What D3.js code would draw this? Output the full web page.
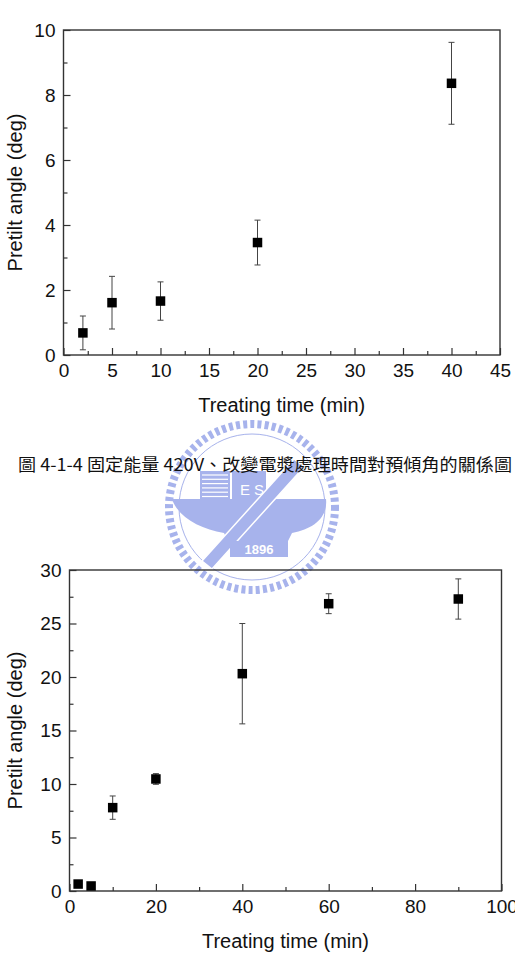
<!DOCTYPE html>
<html>
<head>
<meta charset="utf-8">
<script src="https://cdn.jsdelivr.net/npm/d3@7"></script>
<style>
  body { margin: 0; background: #fff; }
  svg { display: block; font-family: "Liberation Sans", Arial, sans-serif; }
</style>
</head>
<body>
<div id="fig"></div>
<script>
// chart 1: fixed energy 420V, varying treatment time (0-45 min)
const time1 = [2, 5, 10, 20, 40];
const angle1 = [0.68, 1.61, 1.66, 3.46, 8.36];
const err1 = [0.52, 0.81, 0.59, 0.69, 1.26];
const xTicks1 = [0, 5, 10, 15, 20, 25, 30, 35, 40, 45];
const yTicks1 = [0, 2, 4, 6, 8, 10];

// chart 2: 0-100 min
const time2 = [2, 5, 10, 20, 40, 60, 90];
const angle2 = [0.65, 0.47, 7.79, 10.47, 20.31, 26.85, 27.29];
const err2 = [0.2, 0.15, 1.09, 0.5, 4.69, 0.93, 1.88];
const xTicks2 = [0, 20, 40, 60, 80, 100];
const yTicks2 = [0, 5, 10, 15, 20, 25, 30];

const caption = '圖 4-1-4 固定能量 420V、改變電漿處理時間對預傾角的關係圖';

const W = 515, H = 962;
const svg = d3.select('#fig').append('svg')
  .attr('width', W).attr('height', H);

// faint university logo watermark behind the caption
const logo = svg.append('g').attr('transform', 'translate(252,507)')
  .attr('opacity', 0.7);
const blue = '#8393e4';
logo.append('circle').attr('r', 83)
  .attr('fill', 'none').attr('stroke', blue).attr('stroke-width', 8)
  .attr('stroke-dasharray', '4 3.2');
logo.append('circle').attr('r', 73)
  .attr('fill', 'none').attr('stroke', blue).attr('stroke-width', 1);
// anvil body
logo.append('path')
  .attr('d', 'M-80,-8 L74,-8 C76,10 62,22 40,26 L34,38 L-22,38 L-28,26 C-52,22 -74,10 -80,-8 Z')
  .attr('fill', blue);
// striped block
logo.append('rect').attr('x', -52).attr('y', -36).attr('width', 30).attr('height', 28).attr('fill', blue);
d3.range(6).forEach(i => {
  logo.append('line').attr('x1', -50).attr('x2', -24)
    .attr('y1', -32 + i * 4.3).attr('y2', -32 + i * 4.3)
    .attr('stroke', '#fff').attr('stroke-width', 1.2);
});
logo.append('rect').attr('x', -20).attr('y', -36).attr('width', 34).attr('height', 28).attr('fill', blue);
logo.append('text').attr('x', -12).attr('y', -12).text('E')
  .attr('fill', '#fff').attr('font-size', 15);
logo.append('text').attr('x', 2).attr('y', -12).text('S')
  .attr('fill', '#fff').attr('font-size', 15);
// diagonal bar
logo.append('path')
  .attr('d', 'M-50,54 L42,-48 L52,-40 L-40,62 Z')
  .attr('fill', blue).attr('stroke', '#fff').attr('stroke-width', 1.5);
logo.append('rect').attr('x', -22).attr('y', 34).attr('width', 58).attr('height', 16).attr('fill', blue);
logo.append('text').attr('x', 7).attr('y', 47).attr('text-anchor', 'middle')
  .text('1896').attr('fill', '#fff').attr('font-size', 13).attr('font-weight', 'bold');

function drawChart(opt) {
  const { box, xDomain, yDomain, xTicks, yTicks, xMinor, yMinor, times, values, errs } = opt;
  const x = d3.scaleLinear().domain(xDomain).range([box.left, box.right]);
  const y = d3.scaleLinear().domain(yDomain).range([box.bottom, box.top]);
  const g = svg.append('g');

  g.append('g').attr('transform', `translate(0,${box.bottom})`)
    .call(d3.axisBottom(x).tickValues(xTicks).tickSize(-7).tickPadding(9).tickFormat(d3.format('d')));
  g.append('g').attr('transform', `translate(0,${box.bottom})`)
    .call(d3.axisBottom(x).tickValues(xMinor).tickSize(-4).tickFormat(''));
  g.append('g').attr('transform', `translate(${box.left},0)`)
    .call(d3.axisLeft(y).tickValues(yTicks).tickSize(-7).tickPadding(8).tickFormat(d3.format('d')));
  g.append('g').attr('transform', `translate(${box.left},0)`)
    .call(d3.axisLeft(y).tickValues(yMinor).tickSize(-4).tickFormat(''));

  g.selectAll('.domain').remove();
  g.selectAll('.tick line').attr('stroke', '#333').attr('stroke-width', 1.2);
  g.selectAll('.tick text').attr('fill', '#111')
    .attr('font-size', 19).attr('font-family', '"Liberation Sans", Arial, sans-serif');

  g.append('rect')
    .attr('x', box.left).attr('y', box.top)
    .attr('width', box.right - box.left).attr('height', box.bottom - box.top)
    .attr('fill', 'none').attr('stroke', '#333').attr('stroke-width', 1.4);

  // error bars
  const pts = times.map((t, i) => ({ t, v: values[i], e: errs[i] }));
  const eb = g.append('g').attr('stroke', '#444').attr('stroke-width', 1);
  eb.selectAll('line.v').data(pts).enter().append('line')
    .attr('x1', d => x(d.t)).attr('x2', d => x(d.t))
    .attr('y1', d => y(d.v + d.e)).attr('y2', d => y(d.v - d.e));
  eb.selectAll('line.top').data(pts).enter().append('line')
    .attr('x1', d => x(d.t) - 3).attr('x2', d => x(d.t) + 3)
    .attr('y1', d => y(d.v + d.e)).attr('y2', d => y(d.v + d.e));
  eb.selectAll('line.bot').data(pts).enter().append('line')
    .attr('x1', d => x(d.t) - 3).attr('x2', d => x(d.t) + 3)
    .attr('y1', d => y(d.v - d.e)).attr('y2', d => y(d.v - d.e));

  const s = 9.5;
  g.selectAll('rect.pt').data(pts).enter().append('rect')
    .attr('x', d => x(d.t) - s / 2).attr('y', d => y(d.v) - s / 2)
    .attr('width', s).attr('height', s).attr('fill', '#000');

  g.append('text')
    .attr('x', (box.left + box.right) / 2).attr('y', box.bottom + 57)
    .attr('text-anchor', 'middle').attr('font-size', 20).attr('fill', '#111')
    .text('Treating time (min)');
  g.append('text')
    .attr('transform', `translate(22,${(box.top + box.bottom) / 2}) rotate(-90)`)
    .attr('text-anchor', 'middle').attr('font-size', 20).attr('fill', '#111')
    .text('Pretilt angle (deg)');
}

drawChart({
  box: { left: 63.5, right: 500, top: 30, bottom: 355 },
  xDomain: [0, 45], yDomain: [0, 10],
  xTicks: xTicks1, yTicks: yTicks1,
  xMinor: [2.5, 7.5, 12.5, 17.5, 22.5, 27.5, 32.5, 37.5, 42.5],
  yMinor: [1, 3, 5, 7, 9],
  times: time1, values: angle1, errs: err1
});

drawChart({
  box: { left: 69.5, right: 501.5, top: 570, bottom: 891 },
  xDomain: [0, 100], yDomain: [0, 30],
  xTicks: xTicks2, yTicks: yTicks2,
  xMinor: [10, 30, 50, 70, 90],
  yMinor: [2.5, 7.5, 12.5, 17.5, 22.5, 27.5],
  times: time2, values: angle2, errs: err2
});

svg.append('text')
  .attr('x', 18).attr('y', 471)
  .attr('textLength', 494).attr('lengthAdjust', 'spacingAndGlyphs')
  .attr('font-family', '"Noto Sans CJK TC", "Liberation Sans", sans-serif')
  .attr('font-size', 17).attr('fill', '#111')
  .text(caption);
</script>
</body>
</html>
